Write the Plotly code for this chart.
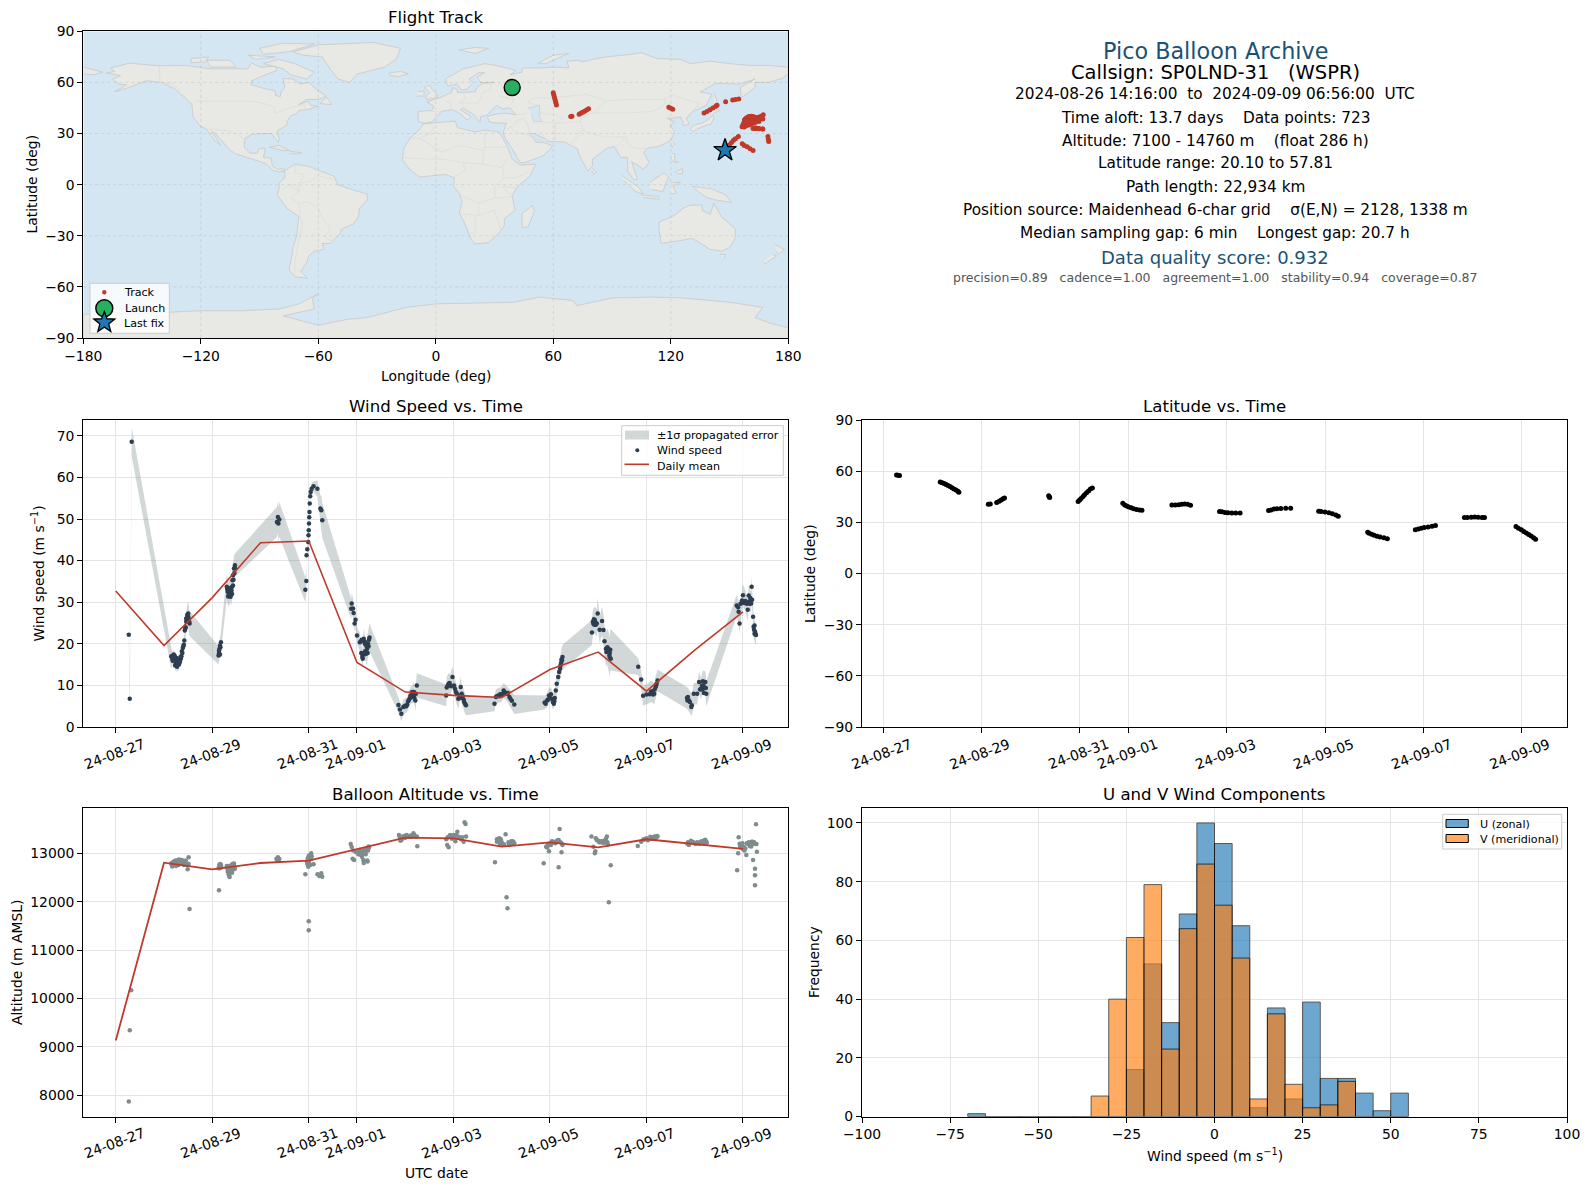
import math
from datetime import datetime, timedelta
import plotly.graph_objects as go

# Positions below; the page body keeps its 8 px margin
PAGE_MARGIN = 8
W, H = 1590 - 2 * PAGE_MARGIN, 1189 - 2 * PAGE_MARGIN
LEFT_COL = (83.3, 788.3)
RIGHT_COL = (862.0, 1567.0)
ROW_MAP = (31.3, 338.0)
ROW_MID = (420.0, 727.0)
ROW_LOW = (808.3, 1116.6)

RED = "#c0392b"
NAVY = "#2c3e50"
SLATE = "#7f8c8d"
TITLE_BLUE = "#1a5276"
GREEN = "#27ae60"
BLUE = "#1f77b4"
ORANGE = "#ff7f0e"
FONT = "DejaVu Sans"
GRID = "#e4e4e4"

# Landmasses as (lon, lat) outlines
NORTH_AMERICA = [(-168, 65.5), (-164, 66.5), (-166, 68.5), (-156.5, 71.3), (-141, 69.7), (-128, 70), (-115, 68), (-108, 68), (-96, 68), (-94, 71.5), (-90, 69), (-82, 69.5), (-81, 67), (-87, 64.5), (-94, 61), (-94.5, 58.7), (-88, 56.5), (-82, 55), (-82, 52.5), (-79.5, 51.5), (-79, 54.5), (-77, 57), (-78, 62.3), (-73, 62), (-69, 59), (-65, 60), (-60, 55), (-56, 52), (-60, 50), (-66, 50), (-70, 47), (-65, 49), (-64, 46.5), (-60, 46), (-66, 44), (-70, 43.5), (-71, 41.5), (-74, 40.5), (-76, 37), (-76, 35), (-81, 31.5), (-80, 27), (-80.5, 25), (-82, 27), (-84, 30), (-89, 30), (-94, 29.5), (-97.5, 27), (-97.8, 22), (-95, 18.5), (-91, 18.5), (-90.5, 21), (-87, 21.5), (-88, 16), (-84, 15.5), (-83.5, 11), (-81, 9), (-78, 9.3), (-77.3, 8), (-80, 7.5), (-83, 8.3), (-87, 12.5), (-91, 14), (-96, 15.8), (-102, 18), (-105.5, 20.5), (-109, 25.5), (-112.7, 30), (-114.7, 31.5), (-112, 27), (-110, 23), (-112, 25), (-115, 29), (-117, 32.5), (-120.5, 34.5), (-124, 40), (-124.5, 47), (-128, 51), (-133, 56), (-140, 60), (-148, 61), (-152, 59), (-158, 56.5), (-164, 54.5), (-158, 58.5), (-162, 59), (-165, 62), (-161, 64), (-168, 65.5)]
GREENLAND = [(-73, 78), (-60, 82), (-32, 83.5), (-18, 80), (-20, 74), (-26, 69), (-40, 65), (-44, 60), (-50, 62), (-54, 68), (-58, 75), (-68, 76), (-73, 78)]
BAFFIN = [(-80, 73.5), (-72, 71), (-62, 66), (-66, 62), (-74, 64.5), (-78, 68), (-88, 71), (-80, 73.5)]
ELLESMERE = [(-90, 80), (-78, 83), (-62, 82.5), (-75, 78), (-88, 76.5), (-90, 80)]
VICTORIA = [(-117, 73), (-105, 73), (-102, 69), (-115, 69), (-117, 73)]
BANKS = [(-125, 74), (-116, 75), (-118, 72), (-125, 71.5), (-125, 74)]
DEVON = [(-96, 76), (-82, 75), (-92, 73.5), (-96, 76)]
NEWFOUNDLAND = [(-59, 47.5), (-53, 47), (-56, 51.5), (-59, 47.5)]
CUBA = [(-85, 22), (-80, 23), (-74.5, 20), (-78, 20), (-85, 22)]
HISPANIOLA = [(-74.5, 19.5), (-68.5, 18.8), (-71, 18), (-74.5, 18.3)]
ICELAND = [(-24, 65.5), (-18, 66.5), (-14, 65), (-19, 63.4), (-23, 64), (-24, 65.5)]
SOUTH_AMERICA = [(-77.3, 8), (-72, 12), (-64, 10.5), (-60, 8.3), (-52, 5), (-50, 0), (-44, -2.5), (-35, -5.5), (-35, -9), (-39, -14), (-39.5, -19), (-42, -23), (-48, -26), (-49, -29), (-54, -34.5), (-58, -34.5), (-57, -38), (-62, -39), (-65, -42), (-66, -46), (-69, -51), (-65.5, -55), (-72, -54), (-75, -50), (-73.5, -42), (-73, -37), (-71, -30), (-70, -18.5), (-76, -14), (-81, -6), (-80, -2), (-80, 1), (-77, 4), (-77.3, 8)]
AFRICA = [(-6, 35.8), (10, 37.3), (11, 33.5), (20, 31), (25, 32), (32, 31), (34, 28), (37, 21), (39, 15), (43, 11.5), (51, 12), (48, 5), (41, -2), (39, -7), (40.5, -15), (35, -20), (35, -24), (32.5, -28), (27, -34), (20, -34.8), (18, -32), (14.5, -22), (12, -17), (13.5, -10), (12, -5), (9, -1), (9.5, 4), (5, 6), (-4, 5), (-8, 4.5), (-13, 8.5), (-17, 14.5), (-16.5, 21), (-13, 27.5), (-9.5, 31), (-6, 35.8)]
MADAGASCAR = [(49.5, -12), (50.3, -16), (47, -25), (44, -25), (44, -17), (49.5, -12)]
EURASIA = [(-9, 37), (-9, 43), (-2, 43.5), (-1, 46), (-4.5, 48.5), (2, 51), (8, 54), (8.5, 57), (11, 56), (11, 54), (20, 54.5), (21, 57), (24, 59.5), (30, 60), (23, 60), (21, 63), (25, 65.7), (22, 65.8), (17, 62), (19, 60), (16, 56), (13, 55.5), (11, 59), (6, 58), (5, 62), (14, 68), (25, 71), (31, 70), (41, 67), (38, 64.5), (44, 66), (44, 68.5), (54, 68.5), (60, 69), (68, 68.5), (67, 72.5), (73, 73), (75, 72), (80, 73.5), (87, 75), (100, 76.5), (105, 77.5), (113, 74), (125, 73.5), (130, 71), (140, 72.5), (150, 71), (160, 70), (170, 70), (180, 69), (180, 65), (177, 62.5), (170, 60), (163, 60), (163, 57), (156, 51), (155.5, 57), (163, 62), (155, 59), (143, 59.5), (135, 54.5), (141, 53), (138, 46.5), (131, 42.8), (128, 39), (129.5, 35.5), (126.5, 34.5), (126, 37.5), (125, 39.7), (121, 39), (118, 39), (122, 37), (119.5, 35), (122, 31), (120, 26), (114, 22.5), (108.5, 21.5), (106, 19), (109, 13), (106, 9), (105, 10), (100, 13.5), (103, 3), (101, 3), (98, 8), (98, 16), (94.5, 16), (91, 22.5), (87, 21), (80, 15), (80, 11), (77.5, 8), (73, 18), (72.5, 21), (68, 23.5), (66, 25), (57, 25.5), (56, 27), (50, 30), (48, 30), (51, 25), (56, 24.5), (59.7, 22.5), (55, 17), (45, 12.8), (43, 13), (39, 21), (35, 28), (34.5, 31), (36, 36), (30, 36.3), (27, 37), (26.5, 40), (29, 41), (35, 42), (41, 41), (38, 45), (34, 44.5), (31, 46.5), (28, 43), (26, 40.7), (23, 40), (22.5, 36.5), (19.5, 41), (14, 45), (12.5, 44), (18, 40), (16, 38), (12, 42), (8.5, 44), (3, 43), (0, 39.5), (-2, 36.8), (-5.5, 36), (-9, 37)]
CHUKOTKA = [(-180, 69), (-170, 66), (-175, 64.5), (-180, 65)]
BRITAIN = [(-5, 50), (1, 51), (0, 54), (-2, 56), (-3, 58.5), (-6, 57), (-3, 54), (-5, 52), (-5, 50)]
IRELAND = [(-10, 52), (-6, 52), (-6, 55), (-9, 54.5)]
NOVAYA_ZEMLYA = [(52, 71), (56, 71), (68, 77), (60, 76), (52, 71)]
SVALBARD = [(12, 79), (20, 80.5), (27, 80), (20, 77), (12, 79)]
SAKHALIN = [(142, 54), (143.5, 50), (143, 46), (142, 48)]
HONSHU = [(130, 33), (132, 35), (136, 36), (140, 39), (141.5, 41), (142, 39), (140.5, 35.5), (136, 34), (131, 31), (130, 33)]
HOKKAIDO = [(140, 42), (142, 45.5), (145, 43.5), (142, 42)]
TAIWAN = [(121, 25), (122, 24), (120.7, 22), (120, 23.5)]
LUZON = [(120.5, 18.5), (122, 18), (122, 14), (124, 13), (121, 13.5), (120, 16)]
MINDANAO = [(122, 7), (126, 9.5), (126, 6.5), (123, 6.5)]
SUMATRA = [(95, 5.5), (104, -2), (106, -5.7), (102, -4), (96, 2.5)]
JAVA = [(105, -6), (114, -7), (114, -8.5), (106, -7.5)]
BORNEO = [(109, 1), (116.5, 7), (119, 4.5), (117.5, 1), (116, -4), (110, -3)]
SULAWESI = [(120, 1), (125, 1.5), (121, -1), (123, -5), (120, -5.5)]
NEW_GUINEA = [(131, -1), (141, -2.5), (148, -6), (151, -10.5), (143, -9), (138, -7.5), (134, -4), (131, -1)]
SRI_LANKA = [(80, 9.5), (82, 7), (80.5, 6), (79.8, 8)]
AUSTRALIA = [(114, -22), (122, -18), (126, -14), (130, -12), (136, -12), (136, -15), (140, -17.5), (142, -11), (146, -19), (153, -26), (153, -31), (150, -37), (146, -39), (140, -38), (136, -35), (131, -31.5), (124, -33), (115, -34.5), (114, -27), (114, -22)]
TASMANIA = [(145, -41), (148, -41), (147, -43.5)]
NZ_NORTH = [(173, -35), (178, -38), (175, -41), (174, -39)]
NZ_SOUTH = [(172, -41), (174, -42), (168, -46.5), (167, -45)]
ANTARCTICA = [(-180, -90), (-180, -76), (-158, -76), (-140, -75), (-120, -74), (-100, -74), (-80, -73), (-70, -70), (-60, -64), (-63, -67), (-62, -73), (-78, -77), (-60, -82.5), (-45, -79), (-35, -78), (-15, -72), (0, -70), (20, -69.5), (40, -69), (53, -66), (70, -68), (72, -71), (90, -66.5), (110, -66), (126, -66.5), (150, -69), (167, -72), (163, -78), (170, -81), (180, -84), (180, -90)]
CASPIAN = [(47, 45), (53, 46.5), (53, 40), (54, 37), (50, 37), (49, 41)]

LAND_OUTLINES = [NORTH_AMERICA, GREENLAND, BAFFIN, ELLESMERE, VICTORIA, BANKS, DEVON, NEWFOUNDLAND, CUBA, HISPANIOLA, ICELAND, SOUTH_AMERICA, AFRICA, MADAGASCAR, EURASIA, CHUKOTKA, BRITAIN, IRELAND, NOVAYA_ZEMLYA, SVALBARD, SAKHALIN, HONSHU, HOKKAIDO, TAIWAN, LUZON, MINDANAO, SUMATRA, JAVA, BORNEO, SULAWESI, NEW_GUINEA, SRI_LANKA, AUSTRALIA, TASMANIA, NZ_NORTH, NZ_SOUTH, ANTARCTICA]

# Rough country borders
BORDERS = [
    [(-123, 49), (-95, 49), (-89, 48), (-83, 46), (-82, 42), (-79, 43), (-75, 45), (-70, 46), (-67, 47), (-67, 45)],
    [(-141, 69.7), (-141, 60), (-135, 59), (-130, 55)],
    [(-117, 32.5), (-106, 31.7), (-101, 29.5), (-97.5, 26)],
    [(-52, 3), (-60, 5), (-64, 2), (-70, 1), (-70, -4), (-74, -8), (-70, -11), (-65, -10), (-60, -14), (-58, -20), (-55, -24), (-54, -27), (-57, -30), (-53, -33.7)],
    [(-70, -18), (-68, -23), (-70, -33), (-72, -45), (-72, -52)],
    [(-72, 12), (-72, 7), (-67, 6), (-70, 1)],
    [(-70, -11), (-69, -16), (-70, -18)],
    [(-78, -3), (-75, 0), (-70, -4)],
    [(-13, 27.5), (-8, 27), (-5, 25), (3, 19), (12, 23), (25, 20), (25, 32)],
    [(-9, 27), (-3, 30), (-1, 33), (-2, 35)],
    [(25, 22), (36, 22)],
    [(-17, 16), (-5, 15), (3, 15), (14, 13), (24, 12), (24, 20)],
    [(14, 13), (15, 8), (9, 4.5)],
    [(24, 12), (34, 10), (36, 15)],
    [(34, 10), (35, 4), (41, 4), (48, 8)],
    [(35, 4), (30, -1), (30, -8), (22, -11), (12, -6)],
    [(41, -2), (34, -1), (39, -7), (30, -8)],
    [(22, -11), (22, -18), (12, -17)],
    [(20, -18), (20, -28), (17, -29)],
    [(33, -26), (30, -15), (22, -18)],
    [(5, 49), (8, 48), (7, 44)],
    [(-2, 43), (3, 42.5)],
    [(14, 54), (15, 51), (12, 48), (22, 48), (24, 54)],
    [(24, 54), (28, 56), (28, 60)],
    [(32, 52), (40, 50), (38, 47)],
    [(47, 42), (41, 41)],
    [(40, 37), (45, 39), (47, 35), (48, 30)],
    [(36, 32), (42, 37)],
    [(39, 32), (47, 29), (56, 24.5)],
    [(61, 25), (61, 36), (54, 37)],
    [(61, 36), (74, 37), (75, 32), (70, 25), (68, 23.5)],
    [(50, 51), (60, 51), (77, 53), (87, 49), (98, 50), (107, 50), (117, 50), (120, 53), (127, 50), (135, 48), (131, 43)],
    [(87, 49), (80, 42), (74, 39), (74, 37)],
    [(80, 42), (96, 42), (111, 43), (117, 47), (117, 50)],
    [(75, 32), (85, 28), (97, 28), (98, 24), (102, 21), (108, 21.5)],
    [(97, 28), (92, 22)],
    [(50, 51), (47, 48), (53, 46.5)],
    [(53, 42), (61, 41), (66, 37.5)],
]

# Balloon track on the map
track_lon = [38, 60, 60.3, 60.6, 61, 61.3, 61.6, 68.9, 69.5, 73.2, 74, 75, 76, 77, 78, 119, 120, 121, 137, 138.5, 140, 141.5, 143, 143.6, 148, 151.6, 153, 154.7, 156.4, 156.8, 157.2, 157.6, 158, 158.5, 159, 159.5, 160, 161, 162, 163, 164, 165, 166, 167.2, 164.8, 163.5, 162.4, 161, 160, 158.5, 157.5, 166.8, 165, 163.5, 169.6, 169.8, 170, 150, 151, 152, 153, 154.5, 156.5, 157.5, 159, 160.5, 162, 148.5, 157, 158, 159, 160, 161, 162, 163, 158, 159, 160, 161, 162, 163, 165, 162, 163, 164, 165, 167, 159, 160, 161, 157.5, 166, 167]
track_lat = [57, 54, 52.5, 51, 49.5, 48, 46.8, 40, 40.2, 41.3, 41.9, 42.5, 43.1, 43.8, 44.5, 45.4, 44.9, 44.3, 42, 43, 44, 45, 46, 46.6, 48.6, 49.7, 50, 50.3, 34, 35, 36, 38, 38.5, 39, 39.4, 39.7, 40, 40.2, 40, 39.6, 39.2, 39.5, 40.2, 41, 38, 37, 36, 35.5, 35, 34.5, 33.8, 32.7, 33, 33.2, 28.2, 26.7, 25.3, 23.4, 24.8, 26, 27, 28.3, 24, 23, 22.2, 21, 20, 21, 34.5, 35.5, 36.5, 37, 38, 38.5, 38.4, 37, 38, 39, 40, 37, 36.5, 37, 33, 33, 33, 32.8, 32.6, 37.5, 36, 36.6, 36, 39, 38.5]
launch_lon = [39]
launch_lat = [57]
last_lon = [147.7]
last_lat = [20.2]

# Time axis: days after 2024-08-27 as labelled on the ticks
wind_day = [0.27, 0.29, 0.33, 1.15, 1.17, 1.19, 1.21, 1.22, 1.23, 1.25, 1.27, 1.29, 1.31, 1.32, 1.35, 1.38, 1.39, 1.41, 1.42, 1.43, 1.45, 1.46, 1.48, 1.50, 1.51, 1.53, 2.13, 2.15, 2.17, 2.18, 2.30, 2.32, 2.34, 2.37, 2.39, 2.41, 2.42, 2.43, 2.45, 2.47, 3.34, 3.36, 3.37, 3.39, 3.93, 3.95, 3.955, 3.97, 3.99, 3.995, 4.0, 4.005, 4.01, 4.015, 4.02, 4.03, 4.04, 4.06, 4.10, 4.18, 4.24, 4.26, 4.28, 4.88, 4.89, 4.92, 4.93, 4.95, 4.97, 5.0, 5.06, 5.10, 5.12, 5.14, 5.16, 5.19, 5.21, 5.23, 5.26, 5.86, 5.89, 5.92, 5.96, 6.0, 6.04, 6.08, 6.11, 6.15, 6.18, 6.21, 6.24, 6.85, 6.86, 6.90, 6.93, 6.98, 7.01, 7.05, 7.10, 7.15, 7.17, 7.21, 7.24, 7.26, 7.85, 7.88, 7.93, 7.99, 8.04, 8.11, 8.16, 8.21, 8.26, 8.89, 8.94, 8.98, 9.02, 9.06, 9.10, 9.12, 9.14, 9.17, 9.19, 9.22, 9.24, 9.26, 9.87, 9.89, 9.93, 9.97, 9.99, 10.03, 10.08, 10.11, 10.13, 10.16, 10.19, 10.22, 10.24, 10.25, 10.83, 10.89, 10.93, 11.0, 11.11, 11.16, 11.19, 11.23, 11.84, 11.88, 11.94, 11.98, 12.05, 12.09, 12.13, 12.17, 12.22, 12.24, 12.87, 12.91, 12.93, 12.97, 13.0, 13.05, 13.1, 13.12, 13.17, 13.18, 13.19, 13.21, 13.22, 13.25, 13.27]
wind_ms = [22.2, 6.8, 68.6, 17, 16.4, 17.2, 16, 17.2, 14.8, 15.6, 14.5, 15.4, 15, 16.2, 16.4, 17.8, 19, 19.8, 20.8, 23.2, 24, 25.3, 26.9, 27.3, 26, 24.9, 17.2, 18.8, 19.2, 20.4, 33.7, 32.5, 31.7, 33.2, 32.1, 33.7, 35.3, 36.5, 38.1, 38.9, 49.3, 50.5, 48.9, 49.9, 33, 35.1, 41.3, 42.7, 44.5, 46.1, 47.3, 48.9, 50.4, 51.7, 53.7, 55.5, 56.5, 57.3, 57.9, 57.3, 52.5, 52.1, 49.7, 28.4, 29.7, 28.5, 27.4, 24.9, 25.8, 22, 20.4, 17.6, 16.4, 21.2, 20, 17.6, 18.8, 20, 21.5, 5.3, 4.2, 3.2, 4.8, 5.1, 5.4, 6.6, 7.6, 7.9, 8.4, 6.4, 10, 7.6, 9.5, 10.4, 10, 12, 10, 8.4, 6.8, 9.6, 8, 6.6, 5.6, 5.2, 5.6, 7.2, 7.6, 7.8, 8.8, 8, 7.2, 6.3, 5.4, 5.9, 6.4, 7.6, 7.9, 6, 7, 8.8, 10.4, 12, 13.2, 14.8, 16.2, 16.8, 22.7, 25.3, 25.7, 24.9, 27.3, 23.4, 25.5, 23.3, 20.6, 18.8, 19.2, 18, 16.7, 18.6, 14.5, 11.4, 7.5, 7.8, 8.6, 8, 9.6, 11.2, 7, 6.4, 5.2, 8, 8, 10.8, 9.2, 11, 10.8, 8, 29.2, 27.7, 24.9, 29.8, 31.7, 30.3, 28.2, 31.6, 29.7, 33.7, 30.6, 26.5, 24.1, 22.9, 22.1]
wind_err = [2, 3.4, 3.5, 3, 1.5, 1.5, 1.5, 1.5, 1.6, 1.5, 1.6, 1.5, 1.5, 1.5, 1.5, 1.5, 1.6, 1.6, 1.6, 2, 2.2, 2.5, 2.6, 2.8, 3, 3, 2.2, 2.2, 2.4, 2.5, 3, 3, 3, 3, 3, 3, 3, 3.2, 3.2, 2.8, 3.6, 3.8, 4, 4.2, 3, 3, 1.8, 1.5, 1.4, 1.3, 1.3, 1.3, 1.3, 1.3, 1.3, 1.2, 1.3, 1.4, 1.2, 2, 3.2, 3.5, 4.2, 2.5, 2.5, 2.2, 2, 2, 2, 2, 2.2, 2.2, 2.2, 2.6, 2.6, 2.8, 3, 3, 3.4, 1.8, 1.8, 1.8, 1.8, 1.8, 1.8, 2, 2, 2.2, 2.4, 2.6, 2.9, 2.6, 2.6, 2.6, 2.6, 2.6, 2.4, 2.4, 2.4, 2.4, 2.4, 2.4, 2.4, 2.4, 1.8, 1.8, 1.8, 1.8, 1.8, 1.8, 2, 2.2, 2.3, 1.7, 1.7, 1.7, 1.8, 1.8, 2, 2.2, 2.4, 2.6, 2.8, 2.8, 3, 3, 3, 3, 3.2, 3.4, 3.8, 3.2, 3.4, 3.6, 3.8, 4, 4.4, 4.8, 4.8, 5, 2, 2.2, 2.4, 2.4, 2.6, 2.6, 2.6, 2.6, 2.6, 2.6, 2.6, 2.6, 2.6, 2.6, 2.6, 2.6, 2.6, 3, 2.6, 2.6, 2.6, 2.6, 2.6, 2.6, 2.6, 2.6, 2.6, 2.6, 2.6, 2.6, 2.6, 2.6, 2.6]
# Further fixes inside the dense clusters (markers only)
wind_dense_day = [1.16, 1.18, 1.2, 1.22, 1.24, 1.26, 1.28, 1.3, 1.33, 1.34, 1.36, 1.37, 1.4, 1.44, 1.47, 1.49, 1.5, 1.52, 1.49, 1.46, 2.14, 2.14, 2.16, 2.16, 2.31, 2.33, 2.33, 2.35, 2.36, 2.38, 2.38, 2.4, 2.41, 2.43, 2.44, 2.46, 2.47, 5.08, 5.1, 5.13, 5.15, 5.17, 5.18, 5.2, 5.22, 5.24, 5.09, 5.11, 5.25, 6.12, 6.14, 6.16, 6.18, 6.2, 6.22, 5.98, 6.02, 6.06, 6.1, 6.19, 6.88, 6.92, 6.95, 7.03, 7.07, 7.12, 7.14, 7.19, 7.22, 7.9, 7.95, 7.97, 8.02, 8.06, 8.08, 8.13, 8.18, 8.91, 8.96, 9.0, 9.04, 9.08, 9.09, 9.21, 9.25, 9.23, 9.9, 9.91, 9.92, 9.94, 9.95, 10.17, 10.18, 10.2, 10.21, 10.23, 10.26, 10.24, 11.07, 11.09, 11.13, 11.17, 11.21, 11.14, 11.2, 11.85, 11.86, 11.9, 11.93, 12.11, 12.15, 12.16, 12.18, 12.2, 12.23, 12.19, 12.9, 12.95, 12.98, 13.02, 13.04, 13.08, 13.11, 13.14, 13.16, 13.15, 13.06, 13.23, 13.24, 13.26, 13.24]
wind_dense_ms = [16.8, 15.9, 17.4, 16.2, 15.4, 16.6, 15, 16, 15.6, 16.8, 17, 18.2, 19.4, 23.6, 26.2, 26.4, 26.6, 25.4, 25.4, 26, 17.8, 18.4, 17.4, 19.6, 33.2, 31.4, 33.4, 32.3, 31.5, 32.6, 31.3, 32.8, 32, 34, 35.4, 37, 38.2, 20.6, 21, 20.8, 17.4, 18.2, 20.4, 19.4, 17.8, 19.4, 17.8, 16.8, 21, 7.2, 8.4, 7.4, 7.6, 8, 8, 4.9, 5, 6.2, 7, 7, 10, 10.6, 9.8, 9.2, 8, 7.6, 7, 7.4, 6, 7.4, 7.4, 7.9, 8, 8.4, 8, 8.2, 6.8, 5.6, 6.6, 7, 6.8, 5.6, 6.2, 14, 16, 15.4, 24.8, 25.9, 24.6, 25.2, 24.6, 18, 18.6, 18.2, 18.8, 17.2, 16.4, 17.8, 7.9, 8.4, 8.4, 9, 10.4, 7.8, 10, 6.4, 7.2, 6, 4.8, 9, 10, 9, 10, 9.4, 9.4, 8.2, 28.8, 29.6, 30.4, 30, 29.8, 29.6, 30, 29.6, 30.4, 31, 30, 23.4, 22.4, 22.4, 24.4]
wind_mean_day = [0, 1, 2, 3, 4, 5, 6, 7, 8, 9, 10, 11, 12, 13]
wind_mean = [32.7, 19.6, 31.1, 44.3, 44.7, 15.5, 8.4, 7.6, 7.1, 13.8, 18, 8.6, 18.5, 27.7]

lat_day = [0.27, 0.30, 0.33, 1.16, 1.2, 1.24, 1.28, 1.32, 1.36, 1.4, 1.44, 1.48, 1.52, 1.54, 2.14, 2.18, 2.31, 2.36, 2.4, 2.44, 2.47, 3.37, 3.38, 3.39, 3.97, 4.0, 4.03, 4.07, 4.1, 4.14, 4.18, 4.22, 4.26, 4.88, 4.92, 4.96, 5.0, 5.05, 5.1, 5.16, 5.22, 5.27, 5.88, 5.95, 6.02, 6.08, 6.14, 6.2, 6.26, 6.85, 6.9, 6.96, 7.02, 7.1, 7.18, 7.27, 7.85, 7.9, 7.96, 8.02, 8.1, 8.2, 8.3, 8.87, 8.92, 9.0, 9.08, 9.15, 9.22, 9.27, 9.87, 9.9, 9.95, 10.0, 10.06, 10.12, 10.2, 10.27, 10.84, 10.9, 10.96, 11.02, 11.1, 11.18, 11.25, 11.84, 11.9, 11.98, 12.05, 12.12, 12.2, 12.25, 12.89, 12.94, 13.0, 13.05, 13.1, 13.15, 13.2, 13.25, 13.29]
lat_deg = [57.8, 57.6, 57.4, 53.7, 53.2, 52.8, 52.2, 51.6, 51, 50.3, 49.6, 49, 48.2, 47.6, 40.6, 40.7, 41.6, 42.4, 43.1, 43.8, 44.3, 45.6, 45, 44.6, 42.2, 43.1, 44, 45.2, 46.2, 47.4, 48.4, 49.6, 50.1, 41.2, 40.2, 39.6, 39, 38.5, 38, 37.5, 37.2, 37.1, 40.1, 40.2, 40.3, 40.6, 40.7, 40.6, 40, 36.4, 36.2, 35.8, 35.6, 35.4, 35.4, 35.4, 37, 37.3, 37.8, 38, 38.1, 38.2, 38.2, 36.5, 36.4, 36.1, 35.6, 35, 34.3, 33.6, 24.2, 23.6, 23, 22.4, 21.9, 21.4, 20.9, 20.4, 25.7, 26.1, 26.6, 27, 27.3, 27.7, 28.2, 32.8, 32.9, 33, 33.2, 33, 32.9, 32.8, 27.6, 26.6, 25.6, 24.6, 23.8, 22.9, 22, 21, 20.1]

alt_day = [0.27, 0.29, 0.32, 1.15, 1.17, 1.19, 1.21, 1.23, 1.25, 1.27, 1.29, 1.31, 1.33, 1.35, 1.37, 1.39, 1.41, 1.43, 1.45, 1.47, 1.49, 1.51, 1.53, 1.51, 2.14, 2.13, 2.15, 2.17, 2.19, 2.30, 2.32, 2.34, 2.36, 2.37, 2.39, 2.41, 2.42, 2.43, 2.45, 2.47, 3.34, 3.36, 3.38, 3.93, 3.97, 3.99, 4.0, 4.0, 4.0, 4.02, 4.04, 4.05, 4.06, 4.1, 4.18, 4.22, 4.26, 4.28, 4.87, 4.89, 4.91, 4.92, 4.94, 4.98, 5.03, 5.06, 5.1, 5.12, 5.14, 5.17, 5.2, 5.22, 5.25, 5.87, 5.9, 5.92, 5.96, 6.0, 6.03, 6.08, 6.12, 6.17, 6.22, 6.24, 6.25, 6.85, 6.87, 6.9, 6.93, 6.97, 7.0, 7.04, 7.08, 7.12, 7.16, 7.21, 7.23, 7.25, 7.26, 7.86, 7.9, 7.93, 7.95, 7.98, 8.0, 8.05, 8.08, 8.1, 8.12, 8.15, 8.18, 8.22, 8.24, 8.87, 8.92, 8.95, 8.98, 9.02, 9.07, 9.11, 9.15, 9.18, 9.18, 9.2, 9.24, 9.26, 9.86, 9.9, 9.93, 9.94, 9.97, 10.02, 10.08, 10.12, 10.15, 10.18, 10.2, 10.22, 10.26, 10.82, 10.89, 10.94, 11.0, 11.11, 11.15, 11.18, 11.23, 11.85, 11.9, 11.95, 12.0, 12.05, 12.1, 12.15, 12.2, 12.25, 12.88, 12.9, 12.91, 12.94, 12.97, 13.0, 13.03, 13.07, 13.1, 13.14, 13.18, 13.21, 13.22, 13.25, 13.25, 13.25, 13.27, 13.28, 13.29]
alt_m = [7870, 9343, 10170, 12780, 12730, 12810, 12760, 12830, 12790, 12850, 12810, 12870, 12830, 12790, 12860, 12820, 12760, 12800, 12850, 12790, 12670, 12917, 11850, 12780, 12236, 12690, 12740, 12780, 12710, 12700, 12620, 12560, 12510, 12650, 12730, 12600, 12780, 12700, 12790, 12680, 12890, 12920, 12860, 12566, 12780, 12720, 11595, 11409, 12860, 12950, 12880, 13000, 12940, 12773, 12566, 12530, 12590, 12518, 13190, 13130, 12890, 13060, 12860, 13020, 12980, 13070, 12930, 13040, 12800, 13010, 13100, 12830, 13120, 13380, 13310, 13275, 13350, 13320, 13380, 13340, 13370, 13413, 13340, 13345, 13145, 13290, 13170, 13124, 13380, 13300, 13380, 13250, 13448, 13330, 13290, 13240, 13640, 13606, 13345, 12814, 13240, 13280, 13310, 13250, 13230, 13180, 13392, 12090, 11864, 13200, 13220, 13250, 13240, 12793, 13138, 13172, 13041, 13170, 13240, 13210, 13260, 12711, 13275, 13503, 13020, 13172, 13345, 13138, 13000, 13040, 13275, 13230, 13250, 13220, 13270, 13345, 13180, 11988, 12752, 13150, 13240, 13290, 13310, 13300, 13330, 13345, 13345, 13190, 13220, 13240, 13210, 13230, 13200, 13250, 13270, 13220, 12650, 13000, 13330, 13130, 13190, 13090, 13060, 12965, 13200, 13150, 13240, 12862, 13200, 12683, 12545, 12339, 13600, 13190, 13034]
alt_dense_day = [1.16, 1.18, 1.2, 1.22, 1.24, 1.26, 1.28, 1.3, 1.32, 1.34, 1.36, 1.38, 1.4, 1.42, 1.44, 1.46, 1.48, 1.3, 1.25, 2.14, 2.15, 2.16, 2.18, 2.3, 2.32, 2.33, 2.35, 2.36, 2.38, 2.4, 2.41, 2.42, 2.44, 2.46, 2.35, 3.33, 3.35, 3.37, 3.39, 3.96, 3.98, 4.0, 4.01, 4.03, 4.05, 5.02, 5.05, 5.08, 5.11, 5.15, 5.18, 5.21, 5.23, 5.24, 5.13, 5.88, 5.94, 5.98, 6.01, 6.05, 6.1, 6.14, 6.19, 5.9, 6.88, 6.92, 6.95, 6.99, 7.02, 7.06, 7.1, 7.14, 7.18, 7.9, 7.92, 7.96, 7.98, 8.02, 8.14, 8.16, 8.2, 8.23, 8.26, 8.94, 8.97, 9.0, 9.04, 9.09, 9.13, 9.16, 9.22, 9.25, 9.95, 10.0, 10.04, 10.06, 10.1, 10.13, 10.16, 10.19, 10.95, 11.03, 11.08, 11.13, 11.16, 11.2, 11.22, 11.86, 11.88, 11.92, 11.97, 12.02, 12.08, 12.12, 12.18, 12.22, 12.24, 12.93, 12.96, 12.99, 13.02, 13.05, 13.08, 13.12, 13.15, 13.17, 13.2, 13.23, 13.26]
alt_dense_m = [12800, 12760, 12830, 12790, 12850, 12810, 12790, 12840, 12860, 12820, 12840, 12790, 12810, 12780, 12830, 12770, 12760, 12760, 12740, 12700, 12770, 12690, 12760, 12740, 12680, 12740, 12600, 12700, 12640, 12760, 12700, 12650, 12750, 12720, 12530, 12880, 12860, 12900, 12880, 12830, 12900, 12950, 12800, 12760, 12900, 13020, 12980, 13020, 12960, 13070, 12980, 12850, 13060, 13140, 12860, 13360, 13300, 13330, 13370, 13350, 13360, 13340, 13380, 13260, 13330, 13360, 13340, 13330, 13350, 13380, 13340, 13310, 13330, 13290, 13260, 13200, 13290, 13180, 13230, 13170, 13250, 13200, 13210, 13120, 13180, 13210, 13250, 13220, 13230, 13270, 13230, 13200, 13310, 13260, 13230, 13250, 13220, 13260, 13300, 13230, 13280, 13270, 13340, 13300, 13340, 13320, 13360, 13230, 13170, 13260, 13230, 13190, 13210, 13240, 13210, 13280, 13240, 13200, 13120, 13210, 13130, 13100, 13210, 13230, 13220, 13140, 13240, 13230, 13190]
alt_mean_day = [0, 1, 2, 3, 4, 5, 6, 7, 8, 9, 10, 11, 12, 13]
alt_mean = [9130, 12807, 12670, 12800, 12850, 13090, 13324, 13310, 13138, 13227, 13124, 13290, 13186, 13090]

# Histogram counts per 5 m/s bin
hist_left = [-70, -65, -60, -55, -50, -45, -40, -35, -30, -25, -20, -15, -10, -5, 0, 5, 10, 15, 20, 25, 30, 35, 40, 45, 50]
u_counts = [1, 0, 0, 0, 0, 0, 0, 0, 0, 16, 52, 32, 69, 100, 93, 65, 3, 37, 6, 39, 13, 13, 8, 2, 8]
v_counts = [0, 0, 0, 0, 0, 0, 0, 7, 40, 61, 79, 23, 64, 86, 72, 54, 6, 35, 11, 3, 4, 12, 0, 0, 0]

date_ticks = [0, 2, 4, 5, 7, 9, 11, 13]
date_labels = ["24-08-27", "24-08-29", "24-08-31", "24-09-01", "24-09-03", "24-09-05", "24-09-07", "24-09-09"]
lon_ticks = [-180, -120, -60, 0, 60, 120, 180]
lat_ticks = [-90, -60, -30, 0, 30, 60, 90]

panel_lines = [
    ("Pico Balloon Archive", 22.3, TITLE_BLUE, 50.7),
    ("Callsign: SP0LND-31   (WSPR)", 19.5, "black", 73),
    ("2024-08-26 14:16:00  to  2024-09-09 06:56:00  UTC", 15.3, "black", 94.3),
    ("Time aloft: 13.7 days    Data points: 723", 15.3, "black", 117.6),
    ("Altitude: 7100 - 14760 m    (float 286 h)", 15.3, "black", 141),
    ("Latitude range: 20.10 to 57.81", 15.3, "black", 163.3),
    ("Path length: 22,934 km", 15.3, "black", 186.6),
    ("Position source: Maidenhead 6-char grid    σ(E,N) = 2128, 1338 m", 15.3, "black", 210),
    ("Median sampling gap: 6 min    Longest gap: 20.7 h", 15.3, "black", 233.3),
    ("Data quality score: 0.932", 18, TITLE_BLUE, 257.6),
    ("precision=0.89   cadence=1.00   agreement=1.00   stability=0.94   coverage=0.87", 12.5, "#555555", 277.9),
]

DAY0 = datetime(2024, 8, 27)


def to_dates(days):
    return [DAY0 + timedelta(days=d) for d in days]


def px_x(x):
    return (x - PAGE_MARGIN) / W


def px_y(y):
    return 1 - (y - PAGE_MARGIN) / H


def join_shapes(shapes):
    # One trace, outlines split by None
    lons, lats = [], []
    for shape in shapes:
        lons += [p[0] for p in shape] + [None]
        lats += [p[1] for p in shape] + [None]
    return lons, lats


def note(text, x, y, size=13.9, color="black", angle=0, xref="paper", yref="paper", anchor="center", xshift=0):
    return dict(text=text, x=x, y=y, xref=xref, yref=yref, showarrow=False, textangle=angle, xanchor=anchor,
                yanchor="middle", xshift=xshift, font=dict(family=FONT, size=size, color=color))


def frame_axis(domain, **extra):
    axis = dict(domain=[domain[0], domain[1]], showline=True, mirror=True, linecolor="black", linewidth=1.1,
                ticks="outside", ticklen=5, tickcolor="black", tickwidth=1.1, zeroline=False, automargin=False,
                showgrid=True, gridcolor=GRID, gridwidth=1,
                tickfont=dict(family=FONT, size=13.9, color="black"))
    axis.update(extra)
    return axis


def key_box(x0, y0, x1, y1):
    return dict(type="rect", xref="paper", yref="paper", x0=px_x(x0), x1=px_x(x1), y0=px_y(y0), y1=px_y(y1),
                fillcolor="rgba(255,255,255,0.8)", line=dict(color="#cccccc", width=1), layer="above")


def key_swatch(x0, y0, x1, y1, fill, edge="rgba(0,0,0,0)", width=0):
    return dict(type="rect", xref="paper", yref="paper", x0=px_x(x0), x1=px_x(x1), y0=px_y(y0), y1=px_y(y1),
                fillcolor=fill, line=dict(color=edge, width=width), layer="above")


def key_line(x0, x1, y, color, width):
    return dict(type="line", xref="paper", yref="paper", x0=px_x(x0), x1=px_x(x1), y0=px_y(y), y1=px_y(y),
                line=dict(color=color, width=width), layer="above")


def key_dot(cx, cy, radius, fill, edge="rgba(0,0,0,0)", width=0):
    return dict(type="circle", xref="paper", yref="paper", x0=px_x(cx - radius), x1=px_x(cx + radius),
                y0=px_y(cy - radius), y1=px_y(cy + radius), fillcolor=fill, line=dict(color=edge, width=width),
                layer="above")


def key_star(cx, cy, outer, fill):
    points = []
    for i in range(10):
        r = outer if i % 2 == 0 else outer * 0.42
        a = math.pi * i / 5
        points.append((px_x(cx + r * math.sin(a)), px_y(cy - r * math.cos(a))))
    path = "M " + " L ".join(f"{x:.5f} {y:.5f}" for x, y in points) + " Z"
    return dict(type="path", xref="paper", yref="paper", path=path, fillcolor=fill,
                line=dict(color="black", width=1.3), layer="above")


x_dom_l = (px_x(LEFT_COL[0]), px_x(LEFT_COL[1]))
x_dom_r = (px_x(RIGHT_COL[0]), px_x(RIGHT_COL[1]))
y_dom_map = (px_y(ROW_MAP[1]), px_y(ROW_MAP[0]))
y_dom_mid = (px_y(ROW_MID[1]), px_y(ROW_MID[0]))
y_dom_low = (px_y(ROW_LOW[1]), px_y(ROW_LOW[0]))

# The latitude panel has no daily-mean point on day 0, so it starts later
date_range = to_dates([-0.673, 13.94])
lat_date_range = to_dates([-0.434, 13.93])
date_vals = to_dates(date_ticks)

fig = go.Figure()

# Map: land, borders, Caspian, then the track
land_lon, land_lat = join_shapes(LAND_OUTLINES)
fig.add_trace(go.Scatter(x=land_lon, y=land_lat, mode="lines", fill="toself", fillcolor="#e8e8e4",
                         line=dict(color="#c6c9c9", width=0.8), hoverinfo="skip"))
border_lon, border_lat = join_shapes(BORDERS)
fig.add_trace(go.Scatter(x=border_lon, y=border_lat, mode="lines", line=dict(color="#dcdcd9", width=0.8),
                         hoverinfo="skip"))
lake_lon, lake_lat = join_shapes([CASPIAN])
fig.add_trace(go.Scatter(x=lake_lon, y=lake_lat, mode="lines", fill="toself", fillcolor="#d4e6f1",
                         line=dict(color="#c6c9c9", width=0.6), hoverinfo="skip"))
fig.add_trace(go.Scatter(x=track_lon, y=track_lat, mode="markers", name="Track", marker=dict(color=RED, size=5)))
fig.add_trace(go.Scatter(x=launch_lon, y=launch_lat, mode="markers", name="Launch",
                         marker=dict(color=GREEN, size=16, line=dict(color="black", width=1.4))))
fig.add_trace(go.Scatter(x=last_lon, y=last_lat, mode="markers", name="Last fix",
                         marker=dict(color=BLUE, size=17, symbol="star", line=dict(color="black", width=1.3))))

# Wind speed panel
wind_hi = [v + e for v, e in zip(wind_ms, wind_err)]
wind_lo = [v - e for v, e in zip(wind_ms, wind_err)]
wind_dates = to_dates(wind_day)
fig.add_trace(go.Scatter(x=wind_dates + wind_dates[::-1], y=wind_hi + wind_lo[::-1], mode="lines", fill="toself",
                         fillcolor="rgba(127,140,141,0.35)", line=dict(width=0, color="rgba(127,140,141,0.35)"),
                         name="±1σ propagated error", xaxis="x2", yaxis="y2", hoverinfo="skip"))
fig.add_trace(go.Scatter(x=wind_dates + to_dates(wind_dense_day), y=wind_ms + wind_dense_ms, mode="markers",
                         name="Wind speed", xaxis="x2", yaxis="y2", marker=dict(color=NAVY, size=4.5)))
fig.add_trace(go.Scatter(x=to_dates(wind_mean_day), y=wind_mean, mode="lines", name="Daily mean",
                         xaxis="x2", yaxis="y2", line=dict(color=RED, width=1.6)))

# Latitude panel
fig.add_trace(go.Scatter(x=to_dates(lat_day), y=lat_deg, mode="markers", xaxis="x3", yaxis="y3",
                         marker=dict(color="black", size=5)))

# Altitude panel
fig.add_trace(go.Scatter(x=to_dates(alt_day + alt_dense_day), y=alt_m + alt_dense_m, mode="markers", xaxis="x4", yaxis="y4",
                         marker=dict(color=SLATE, size=4.5)))
fig.add_trace(go.Scatter(x=to_dates(alt_mean_day), y=alt_mean, mode="lines", xaxis="x4", yaxis="y4",
                         line=dict(color=RED, width=1.8)))

# Wind component histogram
hist_mid = [left + 2.5 for left in hist_left]
fig.add_trace(go.Bar(x=hist_mid, y=u_counts, width=5, name="U (zonal)", xaxis="x5", yaxis="y5",
                     marker=dict(color=BLUE, opacity=0.65, line=dict(color="black", width=1))))
fig.add_trace(go.Bar(x=hist_mid, y=v_counts, width=5, name="V (meridional)", xaxis="x5", yaxis="y5",
                     marker=dict(color=ORANGE, opacity=0.65, line=dict(color="black", width=1))))

notes = []

# Subplot titles
for text, col, top in [("Flight Track", LEFT_COL, ROW_MAP[0]), ("Wind Speed vs. Time", LEFT_COL, ROW_MID[0]),
                       ("Latitude vs. Time", RIGHT_COL, ROW_MID[0]), ("Balloon Altitude vs. Time", LEFT_COL, ROW_LOW[0]),
                       ("U and V Wind Components", RIGHT_COL, ROW_LOW[0])]:
    notes.append(note(text, px_x(sum(col) / 2), px_y(top - 13.5), size=16.6))

# Axis titles
notes.append(note("Longitude (deg)", px_x(436), px_y(375.5)))
notes.append(note("UTC date", px_x(436), px_y(1172.5)))
notes.append(note("Wind speed (m s<sup>−1</sup>)", px_x(1215), px_y(1155)))
notes.append(note("Latitude (deg)", px_x(31), px_y(184.5), angle=-90))
notes.append(note("Wind speed (m s<sup>−1</sup>)", px_x(38), px_y(573.5), angle=-90))
notes.append(note("Latitude (deg)", px_x(809.5), px_y(573.5), angle=-90))
notes.append(note("Altitude (m AMSL)", px_x(16.5), px_y(962.5), angle=-90))
notes.append(note("Frequency", px_x(813.5), px_y(962.5), angle=-90))

# Rotated date labels, centred under their ticks like the original
for xref, label_y in [("x2", 754), ("x3", 754), ("x4", 1143)]:
    for day, label in zip(date_vals, date_labels):
        notes.append(note(label, day, px_y(label_y), angle=-20, xref=xref, xshift=-1.5))

# Summary panel
for text, size, color, y in panel_lines:
    notes.append(note(text, px_x(1215), px_y(y), size=size, color=color))

# Legend texts
for text, x, y in [("Track", 121.6, 292.3), ("Launch", 123, 308.3), ("Last fix", 121.8, 323.3),
                   ("±1σ propagated error", 655.3, 435.3), ("Wind speed", 655.3, 450.3), ("Daily mean", 655.3, 466),
                   ("U (zonal)", 1477.7, 824), ("V (meridional)", 1477.7, 839)]:
    notes.append(note(text, px_x(x), px_y(y), size=11.1, anchor="left"))

# Map background and its faint grid drawn over the land
shapes = [dict(type="rect", xref="x", yref="y", x0=-180, x1=180, y0=-90, y1=90, fillcolor="#d4e6f1",
               line=dict(width=0), layer="below")]
for lon in lon_ticks[1:-1]:
    shapes.append(dict(type="line", xref="x", yref="y", x0=lon, x1=lon, y0=-90, y1=90, layer="above",
                       line=dict(color="rgba(120,120,120,0.22)", width=0.8, dash="dot")))
for lat in lat_ticks[1:-1]:
    shapes.append(dict(type="line", xref="x", yref="y", x0=-180, x1=180, y0=lat, y1=lat, layer="above",
                       line=dict(color="rgba(120,120,120,0.22)", width=0.8, dash="dot")))

# Compact legends, tighter than plotly's own row height allows
shapes += [
    key_box(90, 283.3, 169.3, 333.3),
    key_dot(104.3, 292.3, 2.2, RED),
    key_dot(104.3, 308.3, 8.5, GREEN, "black", 1.4),
    key_star(104.3, 322.5, 11, BLUE),
    key_box(621.7, 425.7, 783.3, 475.3),
    key_swatch(625, 430.5, 649, 439.5, "rgba(127,140,141,0.35)"),
    key_dot(637.3, 450.3, 2, NAVY),
    key_line(624.5, 649, 464.3, RED, 1.6),
    key_box(1442.7, 814.3, 1561.7, 849),
    key_swatch(1446, 819.5, 1468.3, 827.5, "rgba(31,119,180,0.65)", "black", 1),
    key_swatch(1446, 834.5, 1468.3, 842.5, "rgba(255,127,14,0.65)", "black", 1),
]

fig.update_layout(
    width=W, height=H, margin=dict(l=0, r=0, t=0, b=0), paper_bgcolor="white", plot_bgcolor="white",
    barmode="overlay", font=dict(family=FONT, color="black"), showlegend=False,
    xaxis=frame_axis(x_dom_l, range=[-180, 180], tickvals=lon_ticks, anchor="y", showgrid=False),
    yaxis=frame_axis(y_dom_map, range=[-90, 90], tickvals=lat_ticks, anchor="x", showgrid=False),
    xaxis2=frame_axis(x_dom_l, type="date", range=date_range, tickvals=date_vals, showticklabels=False, anchor="y2"),
    yaxis2=frame_axis(y_dom_mid, range=[0, 73.8], tickvals=[0, 10, 20, 30, 40, 50, 60, 70], anchor="x2"),
    xaxis3=frame_axis(x_dom_r, type="date", range=lat_date_range, tickvals=date_vals, showticklabels=False, anchor="y3"),
    yaxis3=frame_axis(y_dom_mid, range=[-90, 90], tickvals=lat_ticks, anchor="x3"),
    xaxis4=frame_axis(x_dom_l, type="date", range=date_range, tickvals=date_vals, showticklabels=False, anchor="y4"),
    yaxis4=frame_axis(y_dom_low, range=[7560, 13930], tickvals=[8000, 9000, 10000, 11000, 12000, 13000], tickformat="d", anchor="x4"),
    xaxis5=frame_axis(x_dom_r, range=[-100, 100], tickvals=[-100, -75, -50, -25, 0, 25, 50, 75, 100], anchor="y5"),
    yaxis5=frame_axis(y_dom_low, range=[0, 105], tickvals=[0, 20, 40, 60, 80, 100], anchor="x5"),
    annotations=notes, shapes=shapes,
)

fig.write_html("out.html")
